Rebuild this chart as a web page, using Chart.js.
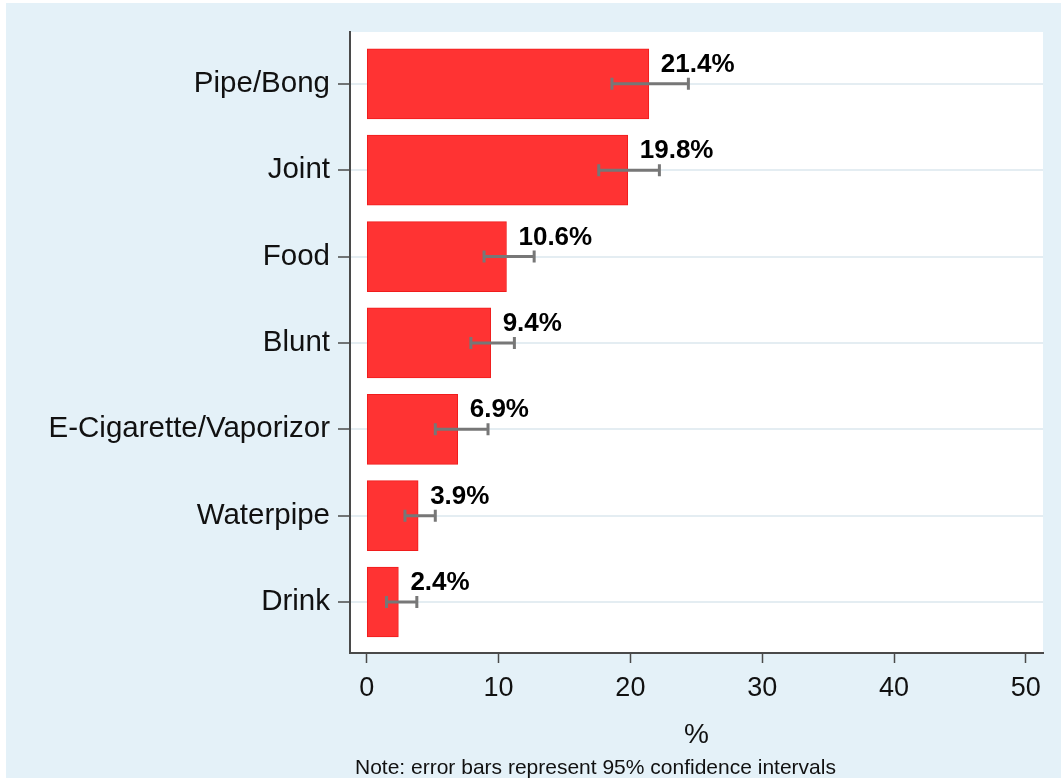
<!DOCTYPE html>
<html>
<head>
<meta charset="utf-8">
<script src="https://cdn.jsdelivr.net/npm/chart.js@4/dist/chart.umd.min.js"></script>
<style>
  html, body { margin: 0; padding: 0; background: #fff; }
  #wrap { width: 1061px; height: 778px; position: relative; }
</style>
</head>
<body>
<div id="wrap"><canvas id="myChart"></canvas></div>
<script>
// values
const categories = ['Pipe/Bong', 'Joint', 'Food', 'Blunt', 'E-Cigarette/Vaporizor', 'Waterpipe', 'Drink'];
const pct = [21.4, 19.8, 10.6, 9.4, 6.9, 3.9, 2.4];
const ciLow = [18.6, 17.6, 8.9, 7.9, 5.2, 2.9, 1.5];
const ciHigh = [24.4, 22.2, 12.7, 11.2, 9.2, 5.2, 3.8];
const xTicks = [0, 10, 20, 30, 40, 50];
const xTitle = '%';
const note = 'Note: error bars represent 95% confidence intervals';

const FONT = "'Liberation Sans', Arial, Helvetica, sans-serif";
const bgBlue = '#e4f1f8';

// backgrounds: white outer border, blue graph region, white plot region
const bgPlugin = {
  id: 'bg',
  beforeDraw(chart) {
    const ctx = chart.ctx;
    const a = chart.chartArea;
    ctx.save();
    ctx.fillStyle = '#ffffff';
    ctx.fillRect(0, 0, chart.width, chart.height);
    ctx.fillStyle = bgBlue;
    ctx.fillRect(6, 3, chart.width - 6, chart.height - 3);
    ctx.fillStyle = '#ffffff';
    ctx.fillRect(a.left, a.top, a.right - a.left, a.bottom - a.top);
    ctx.restore();
  }
};

// confidence interval whiskers + value labels
const ciPlugin = {
  id: 'ci',
  afterDatasetsDraw(chart) {
    const ctx = chart.ctx;
    const xs = chart.scales.x;
    const ys = chart.scales.y;
    ctx.save();
    ctx.strokeStyle = '#777777';
    ctx.lineWidth = 3;
    for (let i = 0; i < pct.length; i++) {
      const y = ys.getPixelForValue(i);
      const x1 = xs.getPixelForValue(ciLow[i]);
      const x2 = xs.getPixelForValue(ciHigh[i]);
      ctx.beginPath();
      ctx.moveTo(x1, y); ctx.lineTo(x2, y);
      ctx.moveTo(x1, y - 6); ctx.lineTo(x1, y + 6);
      ctx.moveTo(x2, y - 6); ctx.lineTo(x2, y + 6);
      ctx.stroke();
    }
    ctx.fillStyle = '#000000';
    ctx.font = 'bold 26px ' + FONT;
    ctx.textAlign = 'left';
    ctx.textBaseline = 'middle';
    for (let i = 0; i < pct.length; i++) {
      const y = ys.getPixelForValue(i);
      const x = xs.getPixelForValue(pct[i]);
      ctx.fillText(pct[i].toFixed(1) + '%', x + 12, y - 19);
    }
    ctx.restore();
  }
};

// axis title and note under the plot
const textPlugin = {
  id: 'txt',
  afterDraw(chart) {
    const ctx = chart.ctx;
    const a = chart.chartArea;
    ctx.save();
    ctx.fillStyle = '#111111';
    ctx.textBaseline = 'middle';
    ctx.textAlign = 'center';
    ctx.font = '28px ' + FONT;
    ctx.fillText(xTitle, (a.left + a.right) / 2, 735);
    ctx.textAlign = 'left';
    ctx.font = '21px ' + FONT;
    ctx.fillText(note, 355, 768);
    ctx.restore();
  }
};

const ctx = document.getElementById('myChart').getContext('2d');
const myChart = new Chart(ctx, {
  type: 'bar',
  data: {
    datasets: [{
      data: pct.map((v, i) => ({ x: v, y: i })),
      backgroundColor: '#ff3333',
      borderColor: '#f01c1c',
      borderWidth: 1,
      borderSkipped: false,
      barThickness: 70
    }]
  },
  options: {
    indexAxis: 'y',
    responsive: true,
    maintainAspectRatio: false,
    animation: false,
    devicePixelRatio: 1,
    layout: { padding: { left: 0, top: 32, right: 18, bottom: 0 } },
    plugins: {
      legend: { display: false },
      tooltip: { enabled: false }
    },
    scales: {
      x: {
        type: 'linear',
        min: -1.27,
        max: 51.3,
        afterBuildTicks: (s) => { s.ticks = xTicks.map(v => ({ value: v })); },
        afterFit: (s) => { s.height = 125; },
        border: { color: '#4a4a4a', width: 2 },
        grid: { drawOnChartArea: false, drawTicks: true, tickLength: 10, tickColor: '#4a4a4a', tickWidth: 1.5 },
        ticks: { color: '#111111', font: { family: FONT, size: 27 }, padding: 9, maxRotation: 0 }
      },
      y: {
        type: 'linear',
        reverse: true,
        offset: false,
        min: -0.60,
        max: 6.59,
        afterBuildTicks: (s) => { s.ticks = categories.map((c, i) => ({ value: i })); },
        afterFit: (s) => { s.width = 350; },
        border: { color: '#4a4a4a', width: 2 },
        grid: { offset: false, color: '#e4edf2', lineWidth: 2, tickLength: 12, tickColor: '#4a4a4a', tickWidth: 1.5 },
        ticks: {
          color: '#111111',
          font: { family: FONT, size: 29.5 },
          padding: 8,
          callback: (v) => categories[v]
        }
      }
    }
  },
  plugins: [bgPlugin, ciPlugin, textPlugin]
});
</script>
</body>
</html>
